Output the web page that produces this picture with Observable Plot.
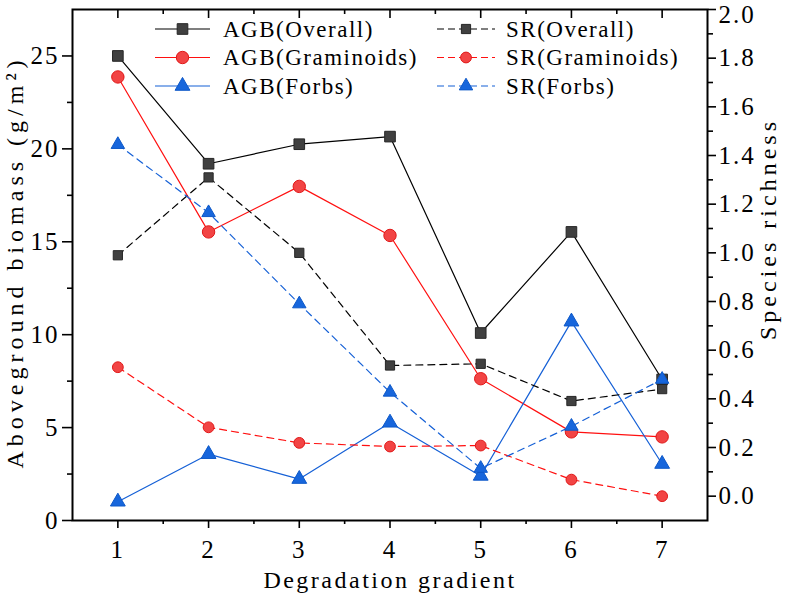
<!DOCTYPE html>
<html><head><meta charset="utf-8">
<script src="https://cdn.jsdelivr.net/npm/d3@7"></script>
<script src="https://cdn.jsdelivr.net/npm/@observablehq/plot@0.6"></script>
<style>
body{margin:0;background:#fff;}
#chart svg{font-family:"Liberation Serif",serif;background:#fff;}
</style></head><body><div id="chart"></div>
<script>
// ---- data ----
const gradient = [1, 2, 3, 4, 5, 6, 7];
const agbOverall    = [25.0, 19.2, 20.25, 20.66, 10.09, 15.53, 7.59];
const agbGraminoids = [23.87, 15.53, 17.98, 15.34, 7.63, 4.77, 4.5];
const agbForbs      = [1.01, 3.57, 2.23, 5.26, 2.4, 10.7, 3.04];
const srOverall     = [0.99, 1.31, 1.00, 0.537, 0.544, 0.391, 0.44];
const srGraminoids  = [0.53, 0.283, 0.219, 0.204, 0.208, 0.068, 0.0];
const srForbs       = [1.445, 1.165, 0.79, 0.427, 0.114, 0.287, 0.48];
const agbTicks = [0, 5, 10, 15, 20, 25];
const agbMinor = [2.5, 7.5, 12.5, 17.5, 22.5];
const srTicks  = [0, 0.2, 0.4, 0.6, 0.8, 1.0, 1.2, 1.4, 1.6, 1.8, 2.0];
const srMinor  = [0.1, 0.3, 0.5, 0.7, 0.9, 1.1, 1.3, 1.5, 1.7, 1.9];
const xMinor   = [1.5, 2.5, 3.5, 4.5, 5.5, 6.5];
const xLabel = "Degradation gradient";
const yLabel = "Aboveground biomass (g/m²)";
const y2Label = "Species richness";

// ---- scales ----
const agbDomain = [0, 27.5];
const srDomain = [-0.1, 2.0];
const toL = s => (s - srDomain[0]) * (agbDomain[1] - agbDomain[0]) / (srDomain[1] - srDomain[0]);
const fromL = v => v * (srDomain[1] - srDomain[0]) / (agbDomain[1] - agbDomain[0]) + srDomain[0];

const series = [
  {name: "AGB(Overall)",    vals: agbOverall,    sr: false, line: "#000000", fill: "#404040", stroke: "#262626", symbol: "square",   r: 6},
  {name: "AGB(Graminoids)", vals: agbGraminoids, sr: false, line: "#ff1010", fill: "#f24444", stroke: "#e01818", symbol: "circle",   r: 6.2},
  {name: "AGB(Forbs)",      vals: agbForbs,      sr: false, line: "#1560d6", fill: "#1766dc", stroke: "#0d58c8", symbol: "triangle", r: 5.5},
  {name: "SR(Overall)",     vals: srOverall,     sr: true,  line: "#000000", fill: "#404040", stroke: "#262626", symbol: "square",   r: 5.2},
  {name: "SR(Graminoids)",  vals: srGraminoids,  sr: true,  line: "#ff1010", fill: "#f24444", stroke: "#e01818", symbol: "circle",   r: 5.4},
  {name: "SR(Forbs)",       vals: srForbs,       sr: true,  line: "#1560d6", fill: "#1766dc", stroke: "#0d58c8", symbol: "triangle", r: 5.0}
];

const rowsOf = s => gradient.map((g, i) => ({g, v: s.vals[i]}));
const yOf = s => s.sr ? (d => toL(d.v)) : (d => d.v);

const lineMarks = series.map(s => Plot.line(rowsOf(s), {
  x: "g", y: yOf(s), stroke: s.line, strokeWidth: 1.2,
  strokeDasharray: s.sr ? "7,5" : null
}));
const dotMarks = series.map(s => Plot.dot(rowsOf(s), {
  x: "g", y: yOf(s), symbol: s.symbol, r: s.r, fill: s.fill, stroke: s.stroke, strokeWidth: 1
}));

const blank = () => "";

const chart = Plot.plot({
  width: 785, height: 597,
  marginLeft: 72, marginRight: 78, marginTop: 9, marginBottom: 77,
  style: {fontFamily: "'Liberation Serif', serif", fontSize: "24px", color: "#000"},
  x: {domain: [0.5, 7.5]},
  y: {domain: agbDomain},
  marks: [
    ...lineMarks,
    ...dotMarks,
    Plot.frame({stroke: "#000", strokeWidth: 2}),
    Plot.axisX({ticks: gradient, tickSize: 8, tickPadding: 12, fontSize: 25, tickFormat: d3.format("d"), label: null, strokeWidth: 1.6}),
    Plot.axisX({ticks: xMinor, tickSize: 4, tickFormat: blank, label: null, strokeWidth: 1.6}),
    Plot.axisX({anchor: "top", ticks: gradient, tickSize: -8, tickFormat: blank, label: null, strokeWidth: 1.6}),
    Plot.axisX({anchor: "top", ticks: xMinor, tickSize: -4, tickFormat: blank, label: null, strokeWidth: 1.6}),
    Plot.axisY({ticks: agbTicks, tickSize: 10, tickPadding: 3, fontSize: 25, label: null, strokeWidth: 1.6}),
    Plot.axisY({ticks: agbMinor, tickSize: 5, tickFormat: blank, label: null, strokeWidth: 1.6}),
    Plot.axisY({anchor: "right", ticks: srTicks.map(toL), tickFormat: d => fromL(d).toFixed(1), tickSize: 8, tickPadding: 3, fontSize: 25, label: null, strokeWidth: 1.6}),
    Plot.axisY({anchor: "right", ticks: srMinor.map(toL), tickSize: 5, tickFormat: blank, label: null, strokeWidth: 1.6}),
    Plot.text([xLabel], {text: d => d, frameAnchor: "bottom", textAnchor: "middle", dy: 60, fontSize: 24, lineAnchor: "middle", fill: "#000"}),
    Plot.text([yLabel], {text: d => d, frameAnchor: "left", textAnchor: "middle", dx: -57, dy: -3, rotate: -90, fontSize: 24, lineAnchor: "middle", fill: "#000"}),
    Plot.text([y2Label], {text: d => d, frameAnchor: "right", textAnchor: "middle", dx: 61, dy: -36, rotate: -90, fontSize: 24, lineAnchor: "middle", fill: "#000"})
  ]
});

document.getElementById("chart").appendChild(chart);

const svg = d3.select(chart);
svg.selectAll("text").filter(function () { return this.textContent === ""; }).remove();
svg.selectAll("text").style("letter-spacing", "2px");
svg.selectAll("text").filter(function () { return this.textContent === xLabel; }).style("letter-spacing", "2.5px");
svg.selectAll("text").filter(function () { return this.textContent === yLabel; }).style("letter-spacing", "5px");
svg.selectAll("text").filter(function () { return this.textContent === y2Label; }).style("letter-spacing", "4px");
// keep the top right tick label fully inside the picture
svg.selectAll("text").filter(function () { return this.textContent === "2.0"; })
  .attr("transform", function () { return (this.getAttribute("transform") || "") + " translate(0,5.5)"; });

// ---- legend ----
const symbolType = {square: d3.symbolSquare, circle: d3.symbolCircle, triangle: d3.symbolTriangle};
const leg = svg.append("g").attr("font-family", "'Liberation Serif', serif").attr("font-size", 23).attr("text-anchor", "start");
const cols = [{x0: 155, x1: 210, tx: 223}, {x0: 437, x1: 495, tx: 506}];
const rowY = [29, 57.5, 86];
series.forEach((s, i) => {
  const c = cols[s.sr ? 1 : 0];
  const y = rowY[i % 3];
  const g = leg.append("g");
  g.append("line").attr("x1", c.x0).attr("x2", c.x1).attr("y1", y).attr("y2", y)
    .attr("stroke", s.line).attr("stroke-width", 1.2)
    .attr("stroke-dasharray", s.sr ? "7,4" : null);
  g.append("path").attr("transform", `translate(${(c.x0 + c.x1) / 2},${y})`)
    .attr("d", d3.symbol(symbolType[s.symbol], Math.PI * s.r * s.r)())
    .attr("fill", s.fill).attr("stroke", s.stroke);
  g.append("text").attr("x", c.tx).attr("y", y).attr("dy", "0.33em")
    .attr("text-anchor", "start")
    .attr("fill", "#000").style("letter-spacing", "1.5px").text(s.name);
});
</script></body></html>
